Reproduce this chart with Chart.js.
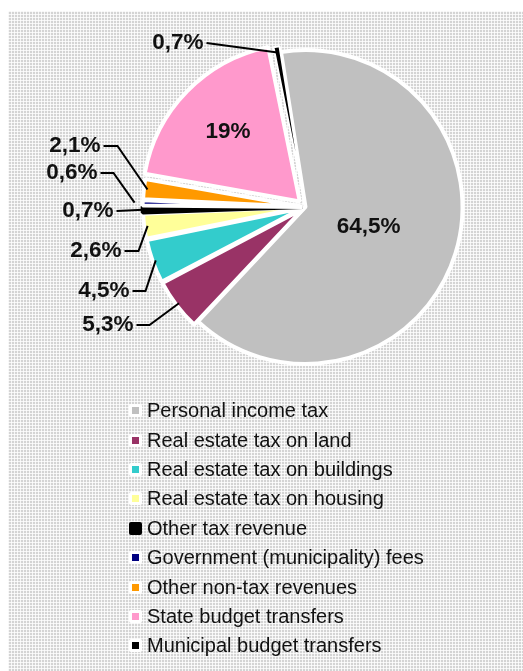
<!DOCTYPE html>
<html>
<head>
<meta charset="utf-8">
<script src="https://cdn.jsdelivr.net/npm/chart.js@4"></script>
<style>
  html, body { margin: 0; padding: 0; background: #fff; }
  #panel {
    position: absolute; left: 8px; top: 11px; width: 515px; height: 660px;
    background-color: #d4d4d4;
    background-image:
      linear-gradient(90deg, rgba(255,255,255,0.8) 1px, transparent 1px),
      linear-gradient(rgba(255,255,255,0.8) 1px, transparent 1px);
    background-size: 3px 3px;
  }
  #pieBox { position: absolute; left: 0; top: 0; width: 515px; height: 392px; }
  #legend {
    position: absolute; left: 121px; top: 385px; margin: 0; padding: 0; list-style: none;
    font: 20px "Liberation Sans", Arial, sans-serif; color: #111;
  }
  #legend li { display: flex; align-items: center; height: 29.4px; }
  #legend .box {
    display: inline-block; width: 7px; height: 7px; border: 3.5px solid #fff;
    border-radius: 2px; margin-right: 5px;
  }
</style>
</head>
<body>
<div id="panel">
  <div id="pieBox"><canvas id="chart"></canvas></div>
  <ul id="legend"></ul>
</div>
<script>
// revenue structure, % of total
const categories = [
    "Personal income tax",
    "Real estate tax on land",
    "Real estate tax on buildings",
    "Real estate tax on housing",
    "Other tax revenue",
    "Government (municipality) fees",
    "Other non-tax revenues",
    "State budget transfers",
    "Municipal budget transfers"
];
const shares = [64.5, 5.3, 4.5, 2.6, 0.7, 0.6, 2.1, 19, 0.7];

const sliceColors = ["#c0c0c0", "#993366", "#33cccc", "#ffff99", "#000000", "#000080", "#ff9900", "#ff99cc", "#000000"];
const edgeColors = ["#fff", "#fff", "#fff", "#fff", "#000", "#fff", "#fff", "#fff", "#fff"];
const edgeWidths = [4, 4, 4, 4, 4, 4, 4, 4, 2];
const sliceOffsets = [0, 12, 12, 12, 12, 12, 12, 32, 12];

// where each percentage label sits (relative to pie centre)
const labelSpots = [
    { inside: 0.42 },
    { dx: -172, dy: 118, elbow: 13, gap: 2 },
    { dx: -176, dy: 84, elbow: 13, gap: 2 },
    { dx: -184, dy: 44, elbow: 14, gap: 2 },
    { dx: -192, dy: 4, elbow: 0, gap: 0 },
    { dx: -208, dy: -34, elbow: 13, gap: 14 },
    { dx: -205, dy: -61, elbow: 14, gap: 2 },
    { inside: 0.69 },
    { dx: -102, dy: -164, elbow: 0, gap: 0 }
];

function fmt(v) {
    return (Number.isInteger(v) ? String(v) : v.toFixed(1).replace(".", ",")) + "%";
}

// Draw the percentage labels and leader lines
const sliceLabels = {
    id: "sliceLabels",
    afterDatasetsDraw(chart) {
        const ctx = chart.ctx;
        const arcs = chart.getDatasetMeta(0).data;
        ctx.save();
        ctx.font = 'bold 22.5px "Liberation Sans", Arial, sans-serif';
        ctx.fillStyle = "#111";
        ctx.strokeStyle = "#000";
        ctx.lineWidth = 2;
        arcs.forEach((arc, i) => {
            const p = arc.getProps(["x", "y", "startAngle", "endAngle", "outerRadius"], true);
            const mid = (p.startAngle + p.endAngle) / 2;
            const text = fmt(shares[i]);
            const spot = labelSpots[i];
            ctx.textBaseline = "middle";
            if (spot.inside) {
                const r = p.outerRadius * spot.inside;
                ctx.textAlign = "center";
                ctx.fillText(text, p.x + Math.cos(mid) * r, p.y + Math.sin(mid) * r);
                return;
            }
            const tx = p.x + spot.dx, ty = p.y + spot.dy;
            ctx.textAlign = "right";
            ctx.fillText(text, tx, ty);
            const ar = p.outerRadius + spot.gap;
            ctx.beginPath();
            ctx.moveTo(tx + 3, ty);
            if (spot.elbow) ctx.lineTo(tx + 3 + spot.elbow, ty);
            ctx.lineTo(p.x + Math.cos(mid) * ar, p.y + Math.sin(mid) * ar);
            ctx.stroke();
        });
        ctx.restore();
    }
};

const ctx = document.getElementById("chart").getContext("2d");
window.chart = new Chart(ctx, {
    type: "pie",
    data: {
        labels: categories,
        datasets: [{
            data: shares,
            backgroundColor: sliceColors,
            borderColor: edgeColors,
            borderWidth: edgeWidths,
            offset: sliceOffsets
        }]
    },
    options: {
        responsive: true,
        maintainAspectRatio: false,
        animation: false,
        rotation: -9,
        radius: 157,
        layout: { padding: { left: 80 } },
        plugins: {
            legend: { display: false },
            tooltip: { enabled: false }
        }
    },
    plugins: [sliceLabels]
});

// Legend below the pie
const legend = document.getElementById("legend");
categories.forEach((name, i) => {
    const li = document.createElement("li");
    const box = document.createElement("span");
    box.className = "box";
    box.style.background = sliceColors[i];
    box.style.borderColor = edgeColors[i];
    li.appendChild(box);
    li.appendChild(document.createTextNode(name));
    legend.appendChild(li);
});
</script>
</body>
</html>
